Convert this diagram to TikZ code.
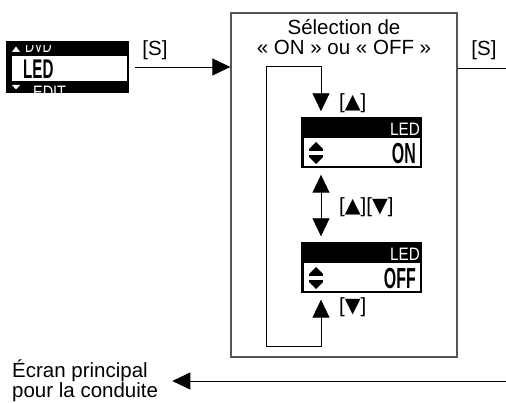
\documentclass[tikz,border=0pt]{standalone}
\usepackage{fontspec}
\setmainfont{Liberation Sans}
\newfontfamily\symfont{DejaVu Sans}
\usetikzlibrary{positioning,arrows.meta,calc}
\definecolor{framegray}{RGB}{85,85,85}
\newcommand{\lcdnarrow}[2]{\scalebox{#1}[1]{#2}}
\newcommand{\keyup}{{\symfont ▲}}
\newcommand{\keydown}{{\symfont ▼}}
\newcommand{\lcdscreen}[3]{%
  \node[lcd] (#1) at (361.5,#2) {};
  \fill[white] (304,#2-5) rectangle (419.5,#2+23.5);
  \node[lcdhead,anchor=base east] at (420,#2-7) {\lcdnarrow{0.85}{LED}};
  \node[lcdval,anchor=base east] at (416,#2+21) {\lcdnarrow{0.55}{#3}};
  \fill (309,#2+6) -- (316,#2-1) -- (323,#2+6) -- cycle;
  \fill (309,#2+6) rectangle (323,#2+8);
  \fill (309,#2+12) rectangle (323,#2+14);
  \fill (309,#2+14) -- (316,#2+21) -- (323,#2+14) -- cycle;}

\begin{document}
\begin{tikzpicture}[x=1pt,y=-1pt,
  lbl/.style={inner sep=0pt,font=\fontsize{20.5}{20}\selectfont},
  lcd/.style={fill=black,inner sep=0pt,minimum width=121pt,minimum height=51pt},
  lcdhead/.style={white,inner sep=0pt,font=\fontsize{18}{18}\selectfont},
  lcdval/.style={inner sep=0pt,font=\fontsize{29}{29}\selectfont\bfseries},
  conn/.style={line width=0.9pt},
  arr/.style={conn,-{Triangle[length=18pt,width=17pt]}},
  arrs/.style={conn,{Triangle[length=18pt,width=17pt]}-{Triangle[length=18pt,width=17pt]}}]
\useasboundingbox (0,0) rectangle (506,403);
% menu screen
\node[lcd,minimum width=123pt,minimum height=52pt] (scrLed) at (67.5,67) {};
\fill[white] (12,56) rectangle (127,81);
\node[lcdval,anchor=base west,font=\fontsize{27}{27}\selectfont\bfseries] at (23,78.5) {\lcdnarrow{0.56}{LED}};
\begin{scope}
  \clip (12,46) rectangle (127,56);
  \node[lcdhead,anchor=base west] at (25,53) {\lcdnarrow{0.7}{DVD}};
\end{scope}
\begin{scope}
  \clip (12,81) rectangle (127,93);
  \node[lcdhead,anchor=base west] at (33,99) {\lcdnarrow{0.8}{EDIT.}};
\end{scope}
\fill[white] (12,52) -- (16,46.5) -- (20,52) -- cycle;
\fill[white] (12,85) -- (16,89.5) -- (20,85) -- cycle;
% selection box
\node[draw=framegray,line width=1.3pt,minimum width=226pt,minimum height=344pt,inner sep=0pt] (selBox) at (344,185) {};
\node[lbl,align=center,anchor=north] (selTitle) at (344,19.6) {Sélection de\\« ON » ou « OFF »};
\lcdscreen{scrOn}{143}{ON}
\lcdscreen{scrOff}{268}{OFF}
% connectors
\draw[arr,shorten <=6pt] (scrLed.east) -- (scrLed.east -| selBox.west);
\node[lbl] (keyS) at (155,50) {[S]};
\coordinate (outS) at (506,68);
\draw[conn] (selBox.east |- outS) -- (outS);
\node[lbl] (keySout) at (484,50) {[S]};
\coordinate (loopTR) at (321,66);
\coordinate (loopTL) at (266,66);
\coordinate (loopBL) at (266,346);
\coordinate (loopBR) at (321,346);
\draw[arrs,shorten <=6pt,shorten >=6pt] (loopBR |- scrOff.south) -- (loopBR) -- (loopBL) -- (loopTL) -- (loopTR) -- (loopTR |- scrOn.north);
\draw[arrs,shorten <=6pt,shorten >=6pt] (loopTR |- scrOn.south) -- (loopTR |- scrOff.north);
\node[lbl,anchor=west] (keyUp) at (339,103) {[\keyup]};
\node[lbl,anchor=west] (keyUpDown) at (339,207) {[\keyup][\keydown]};
\node[lbl,anchor=west] (keyDown) at (339,307) {[\keydown]};
% back to main screen
\node[lbl,align=left,anchor=north west] (mainScr) at (12,359.5) {Écran principal\\pour la conduite};
\coordinate (backIn) at (506,381);
\draw[arr,shorten >=14pt] (backIn) -- (backIn -| mainScr.east);
\end{tikzpicture}
\end{document}
